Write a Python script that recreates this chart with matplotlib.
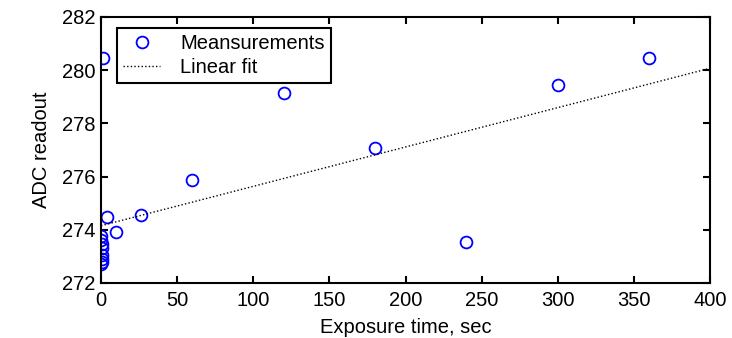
import matplotlib
matplotlib.use("Agg")
import matplotlib.pyplot as plt
import numpy as np

plt.rcParams['font.family'] = ['Liberation Sans', 'DejaVu Sans']

exposure = [0.2, 0.3, 0.4, 0.5, 0.6, 0.5, 0.4, 0.3, 1, 4, 10, 26, 60, 120, 180, 240, 300, 360]
adc = [273.77, 273.6, 273.45, 273.3, 273.05, 272.9, 272.8, 272.7,
       280.45, 274.48, 273.92, 274.54, 275.87, 279.13, 277.06, 273.55, 279.44, 280.45]

fit_x = [0, 400]
fit_intercept = 274.15
fit_slope = 0.0148

xticks = [0, 50, 100, 150, 200, 250, 300, 350, 400]
yticks = [272, 274, 276, 278, 280, 282]

FS = 14.5

fig = plt.figure(figsize=(7.32, 3.38), dpi=100)
ax = fig.add_axes([0.138, 0.163, 0.832, 0.787])

ax.plot(exposure, adc, linestyle='none', marker='o', markersize=8.5,
        markerfacecolor='none', markeredgecolor='#0000ff', markeredgewidth=1.3,
        label='Meansurements')
fx = np.array(fit_x, dtype=float)
ax.plot(fx, fit_intercept + fit_slope * fx, linestyle=(0, (1, 1.6)), color='black',
        linewidth=1.0, label='Linear fit')

ax.set_xlim(0, 400)
ax.set_ylim(272, 282)
ax.set_xticks(xticks)
ax.set_yticks(yticks)
ax.tick_params(direction='in', top=True, right=True, length=5, width=1.5,
               labelsize=FS, pad=4)
ax.tick_params(axis='x', pad=5.5)
for s in ax.spines.values():
    s.set_linewidth(1.5)

ax.set_xlabel('Exposure time, sec', fontsize=FS, labelpad=6)
ax.set_ylabel('ADC readout', fontsize=FS, labelpad=8)

leg = ax.legend(loc='upper left', bbox_to_anchor=(0.026, 0.959), fontsize=FS,
                frameon=True, fancybox=False, edgecolor='black', framealpha=1,
                borderpad=0.3, handlelength=1.85, handletextpad=1.0, labelspacing=0.25,
                borderaxespad=0)
leg.get_frame().set_linewidth(1.5)

fig.savefig('out.png', dpi=100)
